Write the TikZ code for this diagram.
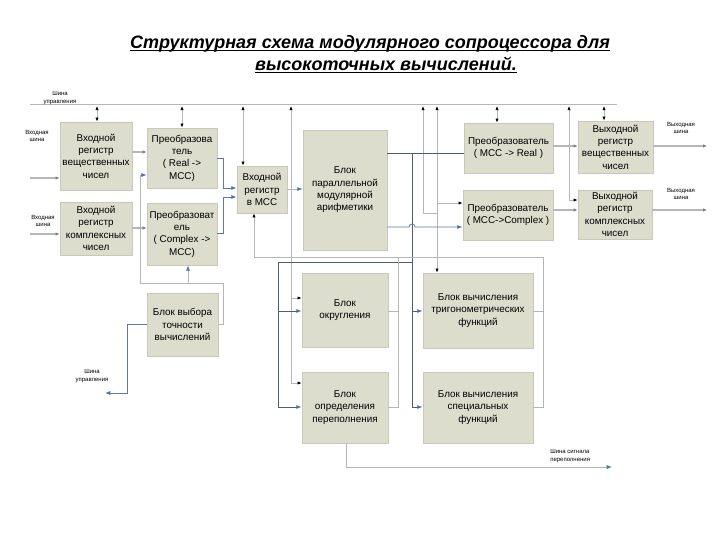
\documentclass[tikz,border=0pt]{standalone}
\usepackage{fontspec}
\setmainfont{Liberation Sans}
\usetikzlibrary{arrows.meta}
\definecolor{boxfill}{RGB}{220,221,205}
\definecolor{boxedge}{RGB}{200,201,186}
\definecolor{lgray}{RGB}{180,182,188}
\definecolor{dline}{RGB}{80,92,118}
\definecolor{bline}{RGB}{95,120,165}
\definecolor{btipc}{RGB}{75,115,175}
\tikzset{
 ktip/.tip={Latex[length=3pt,width=2.4pt,color=black]},
 btp/.tip={Latex[length=4pt,width=3pt,color=btipc]},
 gtp/.tip={Latex[length=3pt,width=2.6pt,color=lgray!70!black]},
 box/.style={fill=boxfill, draw=boxedge, line width=0.6pt, align=center, inner sep=1pt, font=\fontsize{7.4}{9.3}\selectfont},
 lab/.style={font=\fontsize{4.5}{5.5}\selectfont, align=center, inner sep=0pt},
 lw/.style={draw=lgray, line width=0.5pt},
 lwt/.style={draw=lgray, line width=1pt},
 dk/.style={draw=dline, line width=0.6pt},
 bl/.style={draw=bline, line width=0.6pt},
 ttl/.style={font=\fontsize{13.5}{16}\selectfont\bfseries\itshape, anchor=base, inner sep=0pt},
}
\newcommand\bx[6]{\node[box, minimum width={(#4-#2)*0.75pt}, minimum height={(#5-#3)*0.75pt}] (#1) at ({(#2+#4)/2},{(#3+#5)/2}) {#6};}
\begin{document}
\begin{tikzpicture}[x=0.75pt,y=-0.75pt]
\useasboundingbox[fill=white] (0,0) rectangle (720,540);
% title
\node[ttl] (t1) at (370,48) {Структурная схема модулярного сопроцессора для};
\node[ttl] (t2) at (386,70) {высокоточных вычислений.\ };
\draw[line width=0.9pt] ([yshift=-1.6pt]t1.base west) -- ([yshift=-1.6pt]t1.base east);
\draw[line width=0.9pt] ([yshift=-1.6pt]t2.base west) -- ([yshift=-1.6pt]t2.base east);
% boxes
\bx{b1}{60}{122}{132}{190}{Входной\\регистр\\вещественных\\чисел}
\bx{b2}{60}{202}{132}{255}{Входной\\регистр\\комплексных\\чисел}
\bx{b3}{147}{128}{217}{188}{Преобразова\\тель\\( Real ->\\МСС)}
\bx{b4}{147}{203}{217}{265}{Преобразоват\\ель\\( Complex ->\\МСС)}
\bx{b5}{237}{166}{287}{213}{Входной\\регистр\\в МСС}
\bx{b6}{303}{130}{387}{250}{Блок\\параллельной\\модулярной\\арифметики}
\bx{b7}{464}{123}{553}{173}{Преобразователь\\( МСС -> Real )}
\bx{b8}{578}{121}{653}{173}{Выходной\\регистр\\вещественных\\чисел}
\bx{b9}{463}{190}{553}{240}{Преобразователь\\( МСС->Complex )}
\bx{b10}{578}{190}{652}{239}{Выходной\\регистр\\комплексных\\чисел}
\bx{b11}{147}{293}{218}{356}{Блок выбора\\точности\\вычислений}
\bx{b12}{302}{273}{388}{347}{Блок\\округления}
\bx{b13}{423}{273}{533}{348}{Блок вычисления\\тригонометрических\\функций}
\bx{b14}{302}{372}{388}{443}{Блок\\определения\\переполнения}
\bx{b15}{423}{372}{533}{443}{Блок вычисления\\специальных\\функций}
% control bus
\coordinate (busL) at (30,104);
\coordinate (busR) at (617,104);
\draw[lw] (busL) -- (busR);
\node[lab] (lbus) at (60,98) {Шина\\управления};
% double arrows from bus
\draw[lw,ktip-ktip] (97,106) -- (b1.north -| 97,0);
\draw[lw,ktip-ktip] (182,106) -- (b3.north);
\draw[lw,ktip-ktip] (243,106) -- (b5.north -| 243,0);
\draw[lw,ktip-ktip] (497,106) -- (b7.north -| 497,0);
\draw[lw,ktip-ktip] (604,106) -- (b8.north -| 604,0);
% bus to rounding / overflow
\draw[lw,ktip-] (291,106) -- (291,383);
\draw[lw,-ktip] (291,298) -- (b12.west |- 0,298);
\draw[lw,-ktip] (291,383) -- (b14.west |- 0,383);
% bus lines right
\draw[lw,ktip-] (423,106) -- (423,213) -- (437,213);
\draw[lw,ktip-ktip] (437,106) -- (b13.north -| 437,0);
\draw[lw,-ktip] (437,203) -- (b9.west |- 0,203);
\draw[lw,ktip-ktip] (569,106) -- (569,200) -- (b10.west |- 0,200);
% inputs
\draw[lwt,-gtp] (30,178) -- (b1.west |- 0,178);
\draw[lwt,-gtp] (30,234) -- (b2.west |- 0,234);
\node[lab] (lin1) at (37,136) {Входная\\шина};
\node[lab] (lin2) at (43,221) {Входная\\шина};
% registers to converters
\draw[lwt,-gtp] (b1.east |- 0,152) -- (b3.west |- 0,152);
\draw[lwt,-gtp] (b2.east |- 0,228) -- (b4.west |- 0,228);
% converters to MCC register
\draw[bl,-btp] (b3.east |- 0,158) -- (223,158) -- (223,188) -- (b5.west |- 0,188);
\draw[bl,-btp] (b4.east |- 0,233) -- (223,233) -- (223,197) -- (b5.west |- 0,197);
\draw[lw,-btp] (b5.east |- 0,189) -- (b6.west |- 0,189);
% precision block
\draw[lw,-btp] (b11.east |- 0,324) -- (223,324) -- (223,283) -- (140,283) -- (140,175) -- (b3.west |- 0,175);
\draw[lw,-btp] (188,283) -- (b4.south -| 188,0);
\draw[bl,-btp] (b11.west |- 0,324) -- (127,324) -- (127,393) -- (105,393);
\node[lab] (lbus2) at (92,376) {Шина\\управления};
% arithmetic outputs
\draw[dk] (b6.east |- 0,153) -- (b7.west |- 0,153);
\draw[dk] (412,153) -- (412,407);
\draw[dk] (412,262) -- (278,262) -- (278,407);
\draw[dk,-btp] (412,311) -- (b13.west |- 0,311);
\draw[dk,-btp] (412,407) -- (b15.west |- 0,407);
\draw[dk,-btp] (278,311) -- (b12.west |- 0,311);
\draw[dk,-btp] (278,407) -- (b14.west |- 0,407);
\draw[bl,-btp] (b6.east |- 0,227) -- (409,227) arc (180:360:3) -- (b9.west |- 0,227);
% feedback loop
\draw[lw,-ktip] (b15.east |- 0,407) -- (543,407) -- (543,257) -- (254,257) -- (b5.south -| 254,0);
\draw[lw] (b13.east |- 0,311) -- (543,311);
\draw[lw] (b12.east |- 0,311) -- (398,311);
\draw[lw] (b14.east |- 0,407) -- (398,407) -- (398,257);
% overflow bus
\draw[lw,-btp] (b14.south -| 346,0) -- (346,467) -- (612,467);
\node[lab,align=left,anchor=west] (lovf) at (550,456) {Шина сигнала\\переполнения};
% output converters to registers
\draw[lwt,-gtp] (b7.east |- 0,146) -- (b8.west |- 0,146);
\draw[lwt,-gtp] (b9.east |- 0,210) -- (b10.west |- 0,210);
\draw[lwt,-gtp] (b8.east |- 0,146) -- (707,146);
\draw[lwt,-gtp] (b10.east |- 0,210) -- (707,210);
\node[lab] (lout1) at (681,128) {Выходная\\шина};
\node[lab] (lout2) at (681,194) {Выходная\\шина};
\end{tikzpicture}
\end{document}
